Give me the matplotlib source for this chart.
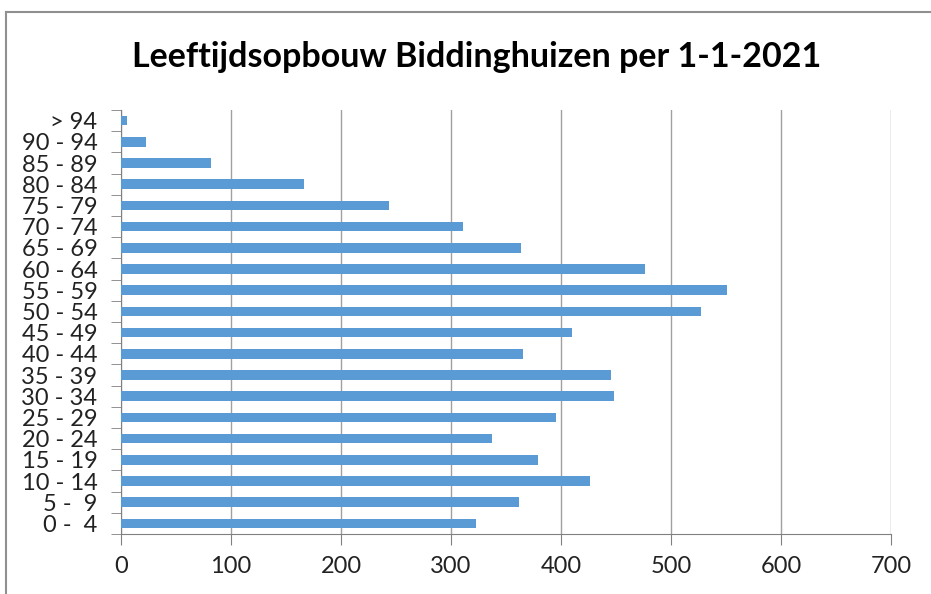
import matplotlib.pyplot as plt
from matplotlib.lines import Line2D

# age groups and number of residents
groups = ['0 -  4', '5 -  9', '10 - 14', '15 - 19', '20 - 24', '25 - 29', '30 - 34',
          '35 - 39', '40 - 44', '45 - 49', '50 - 54', '55 - 59', '60 - 64', '65 - 69',
          '70 - 74', '75 - 79', '80 - 84', '85 - 89', '90 - 94', '> 94']
counts = [323, 362, 426, 379, 337, 395, 448, 445, 365, 410,
          527, 551, 476, 364, 311, 244, 166, 82, 23, 5]
xticks = [0, 100, 200, 300, 400, 500, 600, 700]

plt.rcParams['font.family'] = ['Lato', 'DejaVu Sans']

fig = plt.figure(figsize=(9.31, 5.94), dpi=100)
ax = fig.add_axes([121 / 931, 1 - 534 / 594, 770 / 931, 424 / 594])

pos = list(range(len(groups)))
ax.barh(pos, counts, height=0.45, color='#5B9BD5', zorder=3)

ax.set_xlim(0, 700)
ax.set_ylim(-0.5, len(groups) - 0.5)
ax.set_xticks(xticks)
ax.set_xticklabels([str(t) for t in xticks], fontsize=17, color='#222222')
ax.set_yticks(pos)
ax.set_yticklabels(groups, fontsize=17, color='#222222')
# category boundary ticks
ax.set_yticks([p - 0.5 for p in pos] + [len(groups) - 0.5], minor=True)
ax.tick_params(axis='y', which='major', length=0, pad=17)
ax.tick_params(axis='y', which='minor', length=7, color='#808080')
ax.tick_params(axis='x', length=8, color='#808080', pad=8)

ax.grid(axis='x', color='#a0a0a0', linewidth=1, zorder=0)
for s in ['top', 'right']:
    ax.spines[s].set_visible(False)
for s in ['left', 'bottom']:
    ax.spines[s].set_color('#808080')

fig.text(477 / 931, 1 - 57 / 594, 'Leeftijdsopbouw Biddinghuizen per 1-1-2021',
         ha='center', va='center', fontsize=24.5, fontweight='bold')

# outer chart border (left and top visible)
fig.add_artist(Line2D([6 / 931, 6 / 931], [0, 1 - 12 / 594], transform=fig.transFigure,
                      color='#909090', linewidth=1.5))
fig.add_artist(Line2D([6 / 931, 1], [1 - 12 / 594, 1 - 12 / 594], transform=fig.transFigure,
                      color='#909090', linewidth=1.5))

fig.savefig('out.png', dpi=100)
